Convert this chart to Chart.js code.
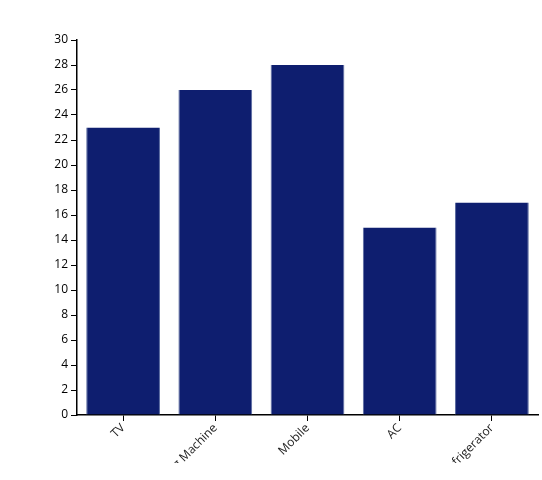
<!DOCTYPE html>
<html><head><style>html,body{margin:0;padding:0;background:#fff;overflow:hidden}#wrap{width:542px;height:463px;position:relative}</style>
<script src="https://cdn.jsdelivr.net/npm/chart.js@4"></script></head>
<body><div id="wrap"><canvas id="c"></canvas></div>
<script>
const categories = ["TV","Washing Machine","Mobile","AC","Refrigerator"];
const values = [23,26,28,15,17];
const yMin = 0, yMax = 30, yStep = 2;
new Chart(document.getElementById('c'), {
  type:'bar',
  data:{labels:categories,datasets:[{data:values,backgroundColor:'#0e1e6f',borderColor:'#5a6aa0',borderWidth:{top:0,left:1,right:1,bottom:0},categoryPercentage:0.8,barPercentage:1}]},
  options:{responsive:true,maintainAspectRatio:false,animation:false,
    layout:{padding:{top:40,right:4,left:0,bottom:0}},
    plugins:{legend:{display:false},tooltip:{enabled:false}},
    scales:{
      x:{afterFit(s){s.height=48;},grid:{display:true,drawOnChartArea:false,offset:false,tickLength:6,color:'#000'},border:{color:'#000',width:1.5},
        ticks:{minRotation:45,maxRotation:45,autoSkip:false,color:'#222',font:{family:'Segoe UI, Open Sans, sans-serif',size:12},padding:0}},
      y:{min:yMin,max:yMax,afterFit(s){s.width=77;},grid:{drawOnChartArea:false,tickLength:6,color:'#000'},border:{color:'#000',width:1.5},
        ticks:{stepSize:yStep,color:'#000',font:{family:'Segoe UI, Open Sans, sans-serif',size:12},padding:3}}
    }}
});
</script></body></html>
